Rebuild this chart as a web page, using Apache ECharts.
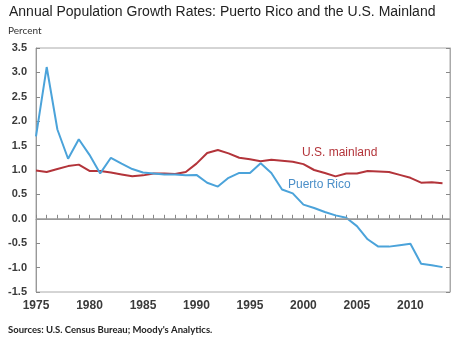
<!DOCTYPE html>
<html>
<head>
<meta charset="utf-8">
<script src="https://cdn.jsdelivr.net/npm/echarts@6/dist/echarts.min.js"></script>
<style>
  html, body { margin: 0; padding: 0; background: #fff; }
  #chart { width: 460px; height: 339px; }
</style>
</head>
<body>
<div id="chart"></div>
<script>
const years = [];
for (let y = 1975; y <= 2013; y++) years.push(y);

const puertoRico = [1.69, 3.11, 1.83, 1.23, 1.63, 1.31, 0.93, 1.25, 1.13, 1.02, 0.95, 0.93, 0.91,
    0.91, 0.89, 0.90, 0.74, 0.66, 0.84, 0.94, 0.94, 1.14, 0.94, 0.60, 0.52, 0.29,
    0.22, 0.14, 0.07, 0.02, -0.15, -0.42, -0.57, -0.57, -0.54, -0.51, -0.92, -0.95, -0.99];
const usMainland = [0.99, 0.96, 1.02, 1.08, 1.11, 0.98, 0.98, 0.95, 0.91, 0.87, 0.89, 0.93, 0.93,
    0.92, 0.96, 1.13, 1.35, 1.41, 1.34, 1.25, 1.22, 1.18, 1.21, 1.19, 1.17, 1.12,
    1.00, 0.94, 0.87, 0.93, 0.93, 0.98, 0.97, 0.96, 0.90, 0.84, 0.74, 0.75, 0.73];

const pair = arr => arr.map((v, i) => [years[i], v]);

const lbl = {color: '#3a3a3a', fontFamily: 'Liberation Sans, Arial', fontSize: 11, fontWeight: 'bold'};

option = {
    backgroundColor: 'white',
    animation: false,
    title: {
        text: 'Annual Population Growth Rates: Puerto Rico and the U.S. Mainland',
        left: 4,
        top: 0,
        textStyle: {fontFamily: 'Liberation Sans, Arial', fontSize: 14, fontWeight: 'normal', color: '#222'},
    },
    grid: {
        left: 36,
        right: 10,
        top: 48,
        bottom: 47,
        show: true,
        borderColor: '#aaa',
        borderWidth: 1,
    },
    xAxis: {
        type: 'value',
        min: 1975,
        max: 2013.7,
        interval: 1,
        axisLine: {show: true, lineStyle: {color: '#999'}},
        axisTick: {show: true, inside: true, length: 4, lineStyle: {color: '#888'}},
        splitLine: {show: false},
        axisLabel: {
            ...lbl,
            fontSize: 12,
            margin: 8,
            showMaxLabel: false,
            formatter: v => (v % 5 === 0 ? String(v) : ''),
        },
    },
    yAxis: [{
        type: 'value',
        min: -1.5,
        max: 3.5,
        interval: 0.5,
        axisLine: {show: true, lineStyle: {color: '#999'}},
        axisTick: {show: true, inside: true, length: 4, lineStyle: {color: '#888'}},
        splitLine: {show: false},
        axisLabel: {...lbl, margin: 9, formatter: v => v.toFixed(1)},
    }, {
        type: 'value',
        position: 'right',
        min: -1.5,
        max: 3.5,
        interval: 0.5,
        axisLine: {show: true, lineStyle: {color: '#aaa'}},
        axisTick: {show: true, inside: true, length: 4, lineStyle: {color: '#888'}},
        splitLine: {show: false},
        axisLabel: {show: false},
    }],
    series: [
        {
            name: 'U.S. mainland',
            type: 'line',
            data: pair(usMainland),
            showSymbol: false,
            lineStyle: {color: '#b3343a', width: 2},
            markLine: {
                silent: true,
                symbol: 'none',
                label: {show: false},
                lineStyle: {color: '#999', width: 1.5, type: 'solid'},
                data: [{yAxis: 0}],
            },
        },
        {
            name: 'Puerto Rico',
            type: 'line',
            data: pair(puertoRico),
            showSymbol: false,
            lineStyle: {color: '#4ba3da', width: 2},
        },
    ],
    graphic: [
        {type: 'text', left: 8, top: 26,
         style: {text: 'Percent', fontFamily: 'Lato', fontSize: 10, fill: '#333'}},
        {type: 'text', left: 302, top: 147,
         style: {text: 'U.S. mainland', fontFamily: 'Liberation Sans, Arial', fontSize: 12, fill: '#b3343a'}},
        {type: 'text', left: 288, top: 179,
         style: {text: 'Puerto Rico', fontFamily: 'Liberation Sans, Arial', fontSize: 12, fill: '#4b8fc8'}},
        {type: 'text', left: 8, top: 325,
         style: {text: "Sources: U.S. Census Bureau; Moody's Analytics.", fontFamily: 'Lato', fontSize: 9.5, fontWeight: 'bold', fill: '#222'}},
    ],
};

dom = document.getElementById('chart');
chart = echarts.init(dom);
chart.setOption(option);
</script>
</body>
</html>
